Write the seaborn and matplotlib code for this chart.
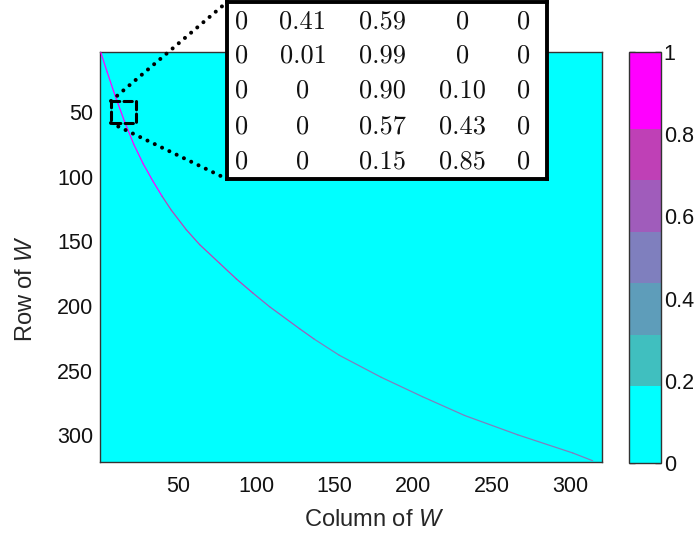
import numpy as np
import matplotlib
matplotlib.use("Agg")
import matplotlib.pyplot as plt
import seaborn as sns
from matplotlib.colors import ListedColormap
from matplotlib.collections import LineCollection
from matplotlib.patches import Rectangle, ConnectionPatch

# ---------------- data ----------------
n_rows = 320
n_cols = 320
# background of W (all zero weights)
W = np.zeros((n_rows, n_cols))

# trace of the non-zero band of W (column, row)
curve_cols = [1.0, 5.0, 10.0, 16.0, 22.0, 28.0, 34.0, 40.0, 46.0, 55.5, 64.0,
              76.8, 87.4, 98.0, 108.6, 127.7, 137.0, 153.0, 179.7, 206.0,
              232.8, 266.8, 301.8, 314.5]
curve_rows = [4.0, 19.0, 37.0, 57.0, 75.0, 90.0, 103.0, 115.0, 126.0, 141.0,
              152.5, 167.0, 179.0, 190.0, 200.5, 217.5, 225.5, 238.0, 255.0,
              270.0, 284.5, 299.5, 313.5, 319.5]
curve_weight = [1.0, 1.0, 1.0, 1.0, 1.0, 0.95, 0.9, 0.8, 0.75, 0.75, 0.75,
                0.75, 0.75, 0.7, 0.65, 0.6, 0.55, 0.5, 0.5, 0.5, 0.5, 0.5,
                0.5, 0.5]

inset_values = [["0", "0.41", "0.59", "0", "0"],
                ["0", "0.01", "0.99", "0", "0"],
                ["0", "0", "0.90", "0.10", "0"],
                ["0", "0", "0.57", "0.43", "0"],
                ["0", "0", "0.15", "0.85", "0"]]

tick_values = [50, 100, 150, 200, 250, 300]
cbar_ticks = [0, 0.2, 0.4, 0.6, 0.8, 1]
cbar_labels = ["0", "0.2", "0.4", "0.6", "0.8", "1"]

band_colors = ["#00ffff", "#40bfbf", "#5e9dba", "#7f7fbe", "#a05cbb", "#bf40b6", "#ff00ff"]
band_reps = [3, 2, 2, 2, 2, 2, 3]

zoom_cols = (7.5, 23.5)
zoom_rows = (41.5, 58.5)
view_rows = (3.6, 320.5)

# ---------------- style ----------------
sns.set_style("white")
plt.rcParams["font.family"] = ["Liberation Sans", "DejaVu Sans"]
plt.rcParams["mathtext.fontset"] = "custom"
plt.rcParams["mathtext.it"] = "Liberation Sans:italic"
plt.rcParams["mathtext.rm"] = "Liberation Sans"

colors = []
for c, r in zip(band_colors, band_reps):
    colors += [c] * r
cmap = ListedColormap(colors)

fig = plt.figure(figsize=(6.99, 5.41), dpi=100)
ax = fig.add_axes([0.1431, 0.146, 0.7182, 0.758])
cax = fig.add_axes([0.8999, 0.1442, 0.0458, 0.7597])

sns.heatmap(W, ax=ax, cmap=cmap, vmin=0, vmax=1, cbar_ax=cax,
            xticklabels=False, yticklabels=False)

ax.set_xlim(0, n_cols)
ax.set_ylim(view_rows[1] - 0.5, view_rows[0] - 0.5)
for s in ax.spines.values():
    s.set_visible(True)
    s.set_color("#333333")
    s.set_linewidth(1.0)
ax.set_xticks([v - 0.5 for v in tick_values])
ax.set_xticklabels([str(v) for v in tick_values], rotation=0)
ax.set_yticks([v - 0.5 for v in tick_values])
ax.set_yticklabels([str(v) for v in tick_values], rotation=0)
ax.tick_params(direction="in", top=True, right=True, bottom=True, left=True,
               length=5, width=1, color="#333333", labelsize=15.5,
               labelcolor="#111111")
ax.tick_params(axis="x", pad=10)
ax.tick_params(axis="y", pad=5)

ax.set_xlabel("Column of $W$", fontsize=17)
ax.set_ylabel("Row of $W$", fontsize=17)
ax.xaxis.set_label_coords(0.547, -0.141)
ax.xaxis.label.set_va("center")
ax.yaxis.set_label_coords(-0.148, 0.422)
ax.yaxis.label.set_va("center")

# curve of W
pts = np.column_stack([np.array(curve_cols) - 0.5, np.array(curve_rows) - 0.5])
segs = np.stack([pts[:-1], pts[1:]], axis=1)
wseg = (np.array(curve_weight[:-1]) + np.array(curve_weight[1:])) / 2
lc = LineCollection(segs, colors=cmap(wseg), linewidths=0.9, zorder=3,
                    capstyle="round", joinstyle="round")
ax.add_collection(lc)

# colorbar
cb = ax.collections[0].colorbar
cb.outline.set_visible(True)
cb.outline.set_linewidth(1.0)
cb.outline.set_edgecolor("#333333")
cb.set_ticks(cbar_ticks)
cb.set_ticklabels(cbar_labels)
cax.tick_params(direction="in", left=True, right=True, length=4, width=1,
                color="#333333", labelsize=15.5, pad=2, labelcolor="#111111")

# dashed zoom box
rect = Rectangle((zoom_cols[0] - 0.5, zoom_rows[0] - 0.5),
                 zoom_cols[1] - zoom_cols[0], zoom_rows[1] - zoom_rows[0],
                 fill=False, edgecolor="black", linewidth=2.2,
                 linestyle=(0, (2.7, 1.4)), joinstyle="round", capstyle="round",
                 zorder=4, clip_on=False)
ax.add_patch(rect)

# inset table
inset = fig.add_axes([0.3247, 0.6691, 0.4578, 0.327])
inset.set_zorder(6)
inset.set_facecolor("white")
inset.set_xlim(0, 1)
inset.set_ylim(0, 1)
inset.set_xticks([])
inset.set_yticks([])
for s in inset.spines.values():
    s.set_visible(True)
    s.set_color("black")
    s.set_linewidth(2.8)
col_x = [0.046, 0.2375, 0.4866, 0.7366, 0.926]
row_y = [0.887, 0.695, 0.500, 0.298, 0.101]
for i, row in enumerate(inset_values):
    for j, val in enumerate(row):
        inset.text(col_x[j], row_y[i], val, family="cmr10", fontsize=19,
                   ha="center", va="center", color="#111111")

# dotted connectors
for ya, yb in [(zoom_rows[0] - 0.5, 1.0), (zoom_rows[1] - 0.5, 0.0)]:
    con = ConnectionPatch(xyA=(zoom_cols[0] - 0.5, ya), coordsA="data", axesA=ax,
                          xyB=(0.0, yb), coordsB="axes fraction", axesB=inset,
                          color="black", linewidth=2.9,
                          linestyle=(0, (0.01, 2.0)), capstyle="round")
    con.set_zorder(4)
    fig.add_artist(con)

fig.savefig("out.png", dpi=100)
